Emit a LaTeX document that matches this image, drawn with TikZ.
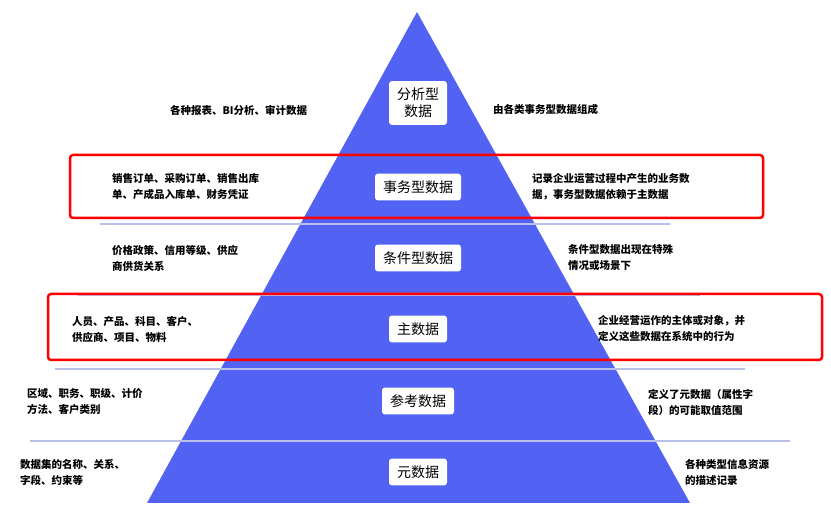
\documentclass[tikz,border=0pt]{standalone}
\usepackage{fontspec}
\setmainfont{Noto Sans CJK SC}
\begin{document}
\begin{tikzpicture}[x=1pt, y=-1pt,
    layer/.style={rectangle, rounded corners=3pt, fill=white, font=\fontsize{14}{17}\selectfont, inner xsep=8pt, inner ysep=7pt, align=center},
    side/.style={font=\bfseries\fontsize{10.5}{16}\selectfont, align=left, anchor=west, inner sep=0pt},
    sep/.style={draw=sepblue, line width=1.5pt},
    mark box/.style={draw=red, line width=2.5pt, rounded corners=3pt}]
    \definecolor{pyrblue}{RGB}{82,98,242}
    \definecolor{sepblue}{RGB}{185,192,232}
    \useasboundingbox (0,0) rectangle (831,518);
    % pyramid
    \coordinate (apex) at (417,12);
    \coordinate (bl) at (147,503);
    \coordinate (br) at (690,503);
    \fill[pyrblue] (apex) -- (br) -- (bl) -- cycle;
    % separators
    \draw[sep] (100,224) -- (670,224);
    \draw[sep] (78,295) -- (700,295);
    \draw[sep] (55,369) -- (745,369);
    \draw[sep] (30,441) -- (790,441);
    % layer names
    \node[layer] (l1) at (418,103) {分析型\\数据};
    \node[layer] (l2) at (418,187) {事务型数据};
    \node[layer] (l3) at (418,258) {条件型数据};
    \node[layer] (l4) at (418,329) {主数据};
    \node[layer] (l5) at (418,401) {参考数据};
    \node[layer] (l6) at (418,472) {元数据};
    % left texts
    \node[side] (a1) at (170,110) {各种报表、BI分析、审计数据};
    \node[side] (a2) at (112,187) {销售订单、采购订单、销售出库\\单、产成品入库单、财务凭证};
    \node[side] (a3) at (112,258) {价格政策、信用等级、供应\\商供货关系};
    \node[side] (a4) at (72,329) {人员、产品、科目、客户、\\供应商、项目、物料};
    \node[side] (a5) at (27,402) {区域、职务、职级、计价\\方法、客户类别};
    \node[side] (a6) at (20,472) {数据集的名称、关系、\\字段、约束等};
    % right texts
    \node[side] (b1) at (493,110) {由各类事务型数据组成};
    \node[side] (b2) at (532,187) {记录企业运营过程中产生的业务数\\据，事务型数据依赖于主数据};
    \node[side] (b3) at (568,258) {条件型数据出现在特殊\\情况或场景下};
    \node[side] (b4) at (598,329) {企业经营运作的主体或对象，并\\定义这些数据在系统中的行为};
    \node[side] (b5) at (648,402) {定义了元数据（属性字\\段）的可能取值范围};
    \node[side] (b6) at (685,472) {各种类型信息资源\\的描述记录};
    % highlight boxes
    \draw[mark box] (70,155) rectangle (763,218);
    \draw[mark box] (48,294) rectangle (822,360);
\end{tikzpicture}
\end{document}
